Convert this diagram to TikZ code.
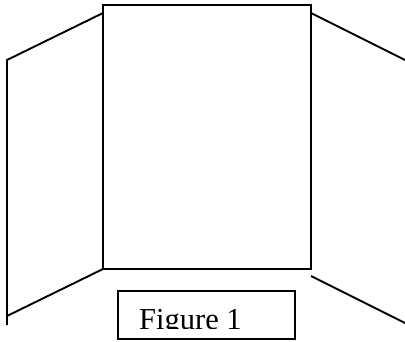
\documentclass[tikz,border=0pt]{standalone}
\usepackage{fontspec}
\setmainfont{Liberation Serif}
\tikzset{
  panel/.style={draw=black,line width=1.9pt,line cap=butt,line join=miter},
  caption/.style={inner sep=0pt,anchor=base west,font=\fontsize{30.5}{30.5}\selectfont}
}
\begin{document}
\begin{tikzpicture}[x=1pt,y=-1pt]
\useasboundingbox (0,0) rectangle (405,341);
\fill[white] (0,0) rectangle (405,341);
% centre panel
\draw[panel] (103,5) rectangle (311,269);
% left panel
\draw[panel] (103,13) -- (7,60) -- (7,325);
\draw[panel] (103,269) -- (7,316);
% right panel
\draw[panel] (311,13) -- (405,60);
\draw[panel] (311,276) -- (405,323);
% label box
\draw[panel] (118,291) rectangle (295,339);
\begin{scope}
\clip (120,293) rectangle (293,328.5);
\node[caption] (label) at (139,329.5) {Figure 1};
\end{scope}
\end{tikzpicture}
\end{document}
